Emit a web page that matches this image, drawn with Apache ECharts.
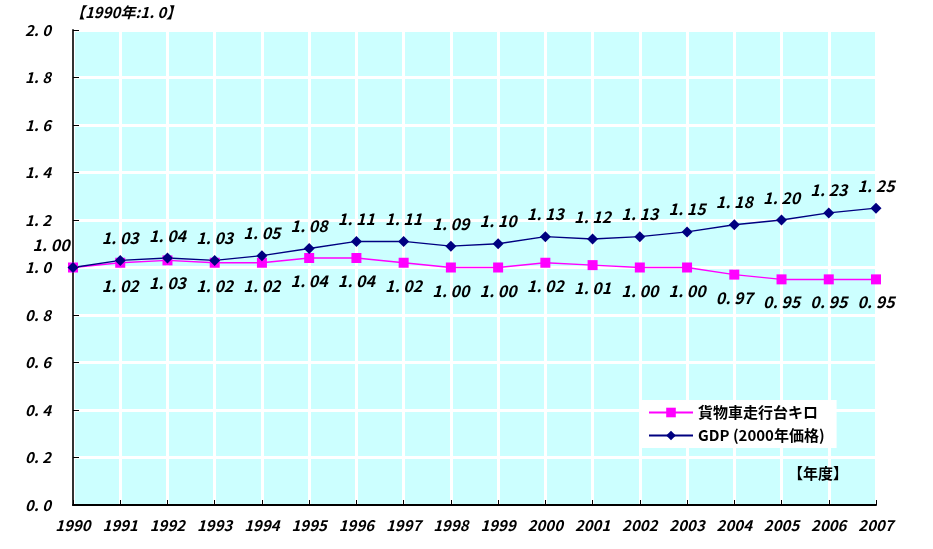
<!DOCTYPE html>
<html><head><meta charset="utf-8">
<script src="https://cdn.jsdelivr.net/npm/echarts@6/dist/echarts.min.js"></script>
<style>html,body{margin:0;padding:0;background:#fff}#c{width:933px;height:549px}</style>
</head><body><div id="c"></div>
<script>
const years = ['1990','1991','1992','1993','1994','1995','1996','1997','1998','1999','2000','2001','2002','2003','2004','2005','2006','2007'];
const truckKm = [1.00,1.02,1.03,1.02,1.02,1.04,1.04,1.02,1.00,1.00,1.02,1.01,1.00,1.00,0.97,0.95,0.95,0.95];
const gdp = [1.00,1.03,1.04,1.03,1.05,1.08,1.11,1.11,1.09,1.10,1.13,1.12,1.13,1.15,1.18,1.20,1.23,1.25];
const yTicks = [0,0.2,0.4,0.6,0.8,1.0,1.2,1.4,1.6,1.8,2.0];
const seriesNames = ['貨物車走行台キロ','GDP (2000年価格)'];

const FONT = '"Noto Sans CJK JP", "DejaVu Sans", sans-serif';
const fmt = v => v.toFixed(2).replace('.', '. ');
const chart = echarts.init(document.getElementById('c'));
const lblStyle = {fontFamily: FONT, fontWeight: 'bold', fontStyle: 'italic', fontSize: 16, color: '#000'};

chart.setOption({
  animation: false,
  grid: {left: 73, right: 57, top: 30, bottom: 44, show: true, backgroundColor: '#ccffff', borderColor: '#8a8a8a', borderWidth: 1},
  legend: {
    data: seriesNames,
    orient: 'vertical', left: 642, top: 400, itemWidth: 44, itemHeight: 12, itemGap: 8,
    backgroundColor: '#fff', padding: [5, 12, 5, 6],
    textStyle: {fontFamily: FONT, fontWeight: 'bold', fontSize: 15, color: '#000'}
  },
  graphic: [
    {type: 'text', left: 70, top: 5, z: 100, style: {text: '【1990年:1. 0】', font: 'italic bold 15px ' + FONT, fill: '#000'}},
    {type: 'text', left: 788, top: 466, z: 100, style: {text: '【年度】', font: 'bold 15px ' + FONT, fill: '#000'}}
  ],
  xAxis: {
    type: 'category', data: years, boundaryGap: false,
    axisLine: {lineStyle: {color: '#000', width: 2}},
    axisTick: {show: true, inside: true, length: 5, lineStyle: {color: '#000'}},
    axisLabel: Object.assign({margin: 13, interval: 0}, lblStyle, {fontSize: 15}),
    splitLine: {show: true, lineStyle: {color: '#fff', width: 3}}
  },
  yAxis: {
    type: 'value', min: 0, max: 2, interval: 0.2,
    axisLine: {show: true, lineStyle: {color: '#333', width: 2}},
    axisTick: {show: true, inside: true, length: 6, lineStyle: {color: '#000'}},
    axisLabel: Object.assign({margin: 22, formatter: v => v.toFixed(1).replace('.', '. ')}, lblStyle, {fontSize: 15}),
    splitLine: {show: true, lineStyle: {color: '#fff', width: 3}}
  },
  series: [
    {
      name: seriesNames[0], type: 'line', symbol: 'rect', symbolSize: 10,
      itemStyle: {color: '#ff00ff'}, lineStyle: {color: '#ff00ff', width: 1.5},
      data: truckKm.map((v, i) => i === 0 ? {value: v, label: {show: false}} : v),
      label: Object.assign({show: true, position: 'bottom', distance: 10, formatter: p => fmt(p.value)}, lblStyle)
    },
    {
      name: seriesNames[1], type: 'line', symbol: 'diamond', symbolSize: 11,
      itemStyle: {color: '#000080'}, lineStyle: {color: '#000080', width: 1.5},
      data: gdp.map((v, i) => i === 0 ? {value: v, label: {offset: [-22, 0]}} : v),
      label: Object.assign({show: true, position: 'top', distance: 9, formatter: p => fmt(p.value)}, lblStyle)
    }
  ]
});
</script></body></html>
